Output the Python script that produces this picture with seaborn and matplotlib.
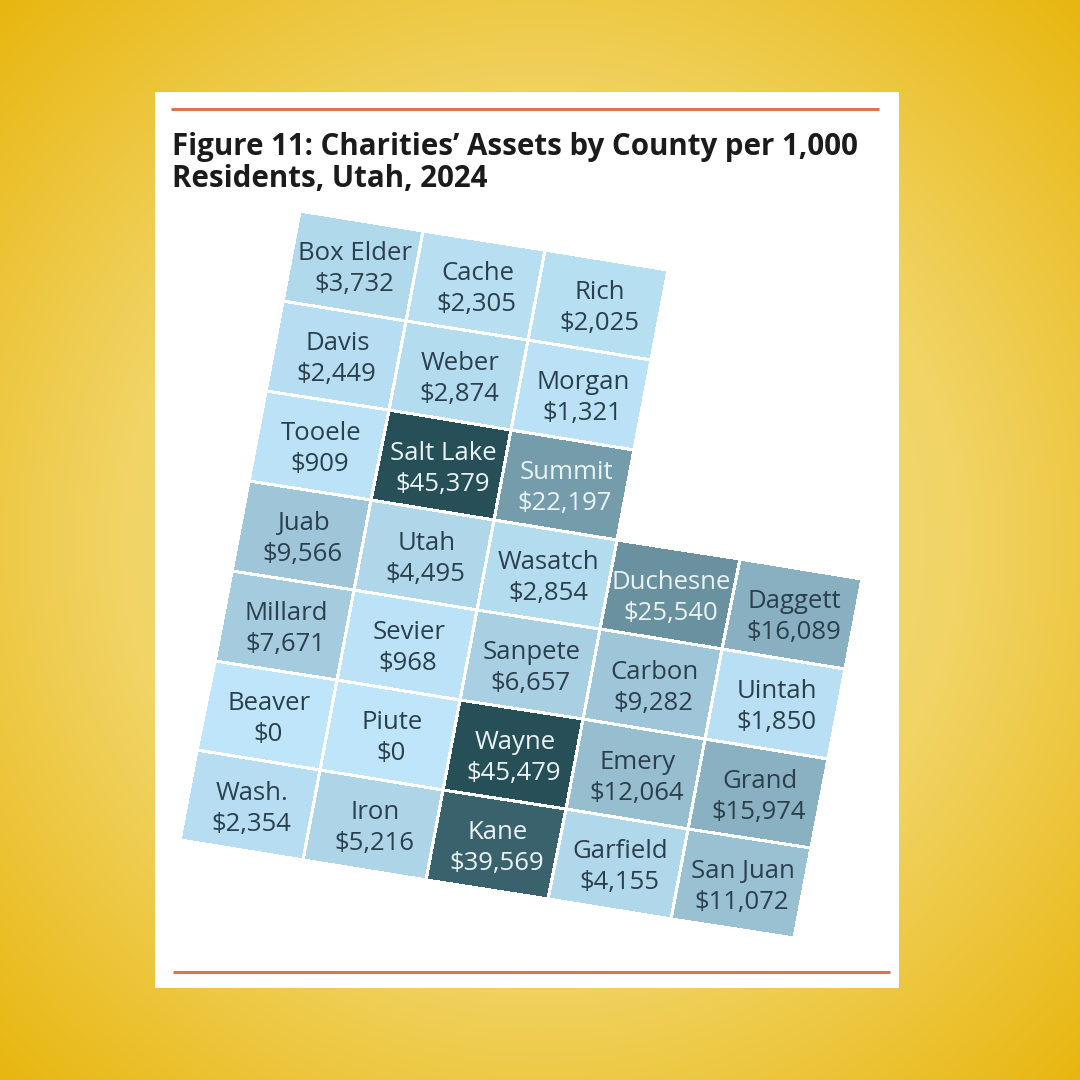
import numpy as np
import pandas as pd
import matplotlib.pyplot as plt
import seaborn as sns
from matplotlib.colors import LinearSegmentedColormap
from matplotlib.patches import Rectangle
from matplotlib.transforms import Affine2D

sns.set_style("white")
plt.rcParams['font.family'] = ['Open Sans', 'DejaVu Sans']

title_lines = ["Figure 11: Charities\u2019 Assets by County per 1,000", "Residents, Utah, 2024"]

# tile grid, row by row, north to south
county_rows = [
    ["Box Elder", "Cache", "Rich", None, None],
    ["Davis", "Weber", "Morgan", None, None],
    ["Tooele", "Salt Lake", "Summit", None, None],
    ["Juab", "Utah", "Wasatch", "Duchesne", "Daggett"],
    ["Millard", "Sevier", "Sanpete", "Carbon", "Uintah"],
    ["Beaver", "Piute", "Wayne", "Emery", "Grand"],
    ["Wash.", "Iron", "Kane", "Garfield", "San Juan"],
]
asset_rows = [
    [3732, 2305, 2025, np.nan, np.nan],
    [2449, 2874, 1321, np.nan, np.nan],
    [909, 45379, 22197, np.nan, np.nan],
    [9566, 4495, 2854, 25540, 16089],
    [7671, 968, 6657, 9282, 1850],
    [0, 0, 45479, 12064, 15974],
    [2354, 5216, 39569, 4155, 11072],
]

assets = pd.DataFrame(asset_rows)
tile_cmap = LinearSegmentedColormap.from_list("tiles", ["#bee5f9", "#264f58"])

fig = plt.figure(figsize=(10.8, 10.8), dpi=100)

# yellow backdrop, lighter in the middle
bg_ax = fig.add_axes([0, 0, 1, 1])
yy, xx = np.mgrid[0:1080, 0:1080]
radius = np.hypot(xx - 540, yy - 540) / 764
backdrop = LinearSegmentedColormap.from_list("backdrop", ["#f4de86", "#f1d465", "#e8b60f"])
bg_ax.imshow(radius, cmap=backdrop, vmin=0.1, vmax=1, extent=(0, 1080, 1080, 0), aspect='auto')
bg_ax.set_axis_off()

ax = fig.add_axes([0, 0, 1, 1])
sns.heatmap(assets, mask=assets.isna(), cmap=tile_cmap, vmin=0, vmax=45479, cbar=False,
            linewidths=1.5, linecolor='white', xticklabels=False, yticklabels=False, ax=ax)
ax.set_xlim(0, 1080)
ax.set_ylim(1080, 0)
ax.set_axis_off()

panel = Rectangle((155, 92), 744, 896, facecolor='white', edgecolor='none', zorder=1)
ax.add_patch(panel)

# the map is skewed and turned about 9 degrees on the page
grid_to_page = Affine2D.from_values(122.7, 19.6, -17.1, 89.9, 300, 211)
mesh = ax.collections[0]
mesh.set_transform(grid_to_page + ax.transData)
mesh.set_zorder(3)
mesh.set_clip_path(panel)  # masked cells still stroke their edges

ax.plot([171, 879], [109, 109], color='#d9764f', lw=2.2, solid_capstyle='butt', zorder=2)
ax.plot([173, 890], [972, 972], color='#d9764f', lw=2.2, solid_capstyle='butt', zorder=2)

ax.text(172, 147, title_lines[0], fontsize=21.25, fontweight='bold', color='#1b1b1b',
        va='center', ha='left', zorder=4)
ax.text(172, 179, title_lines[1], fontsize=21.25, fontweight='bold', color='#1b1b1b',
        va='center', ha='left', zorder=4)

for r, row in enumerate(county_rows):
    for c, name in enumerate(row):
        if name is None:
            continue
        value = asset_rows[r][c]
        x, y = grid_to_page.transform((c + 0.5, r + 0.5))
        text_color = '#eaf3f5' if value > 20000 else '#2b3f4c'
        ax.text(x + 2, y - 12, name, fontsize=18.5, color=text_color, ha='center', va='center', zorder=4)
        ax.text(x + 1, y + 19, f"${value:,}", fontsize=18.5, color=text_color, ha='center', va='center', zorder=4)

fig.savefig("out.png", dpi=100)
plt.close('all')
